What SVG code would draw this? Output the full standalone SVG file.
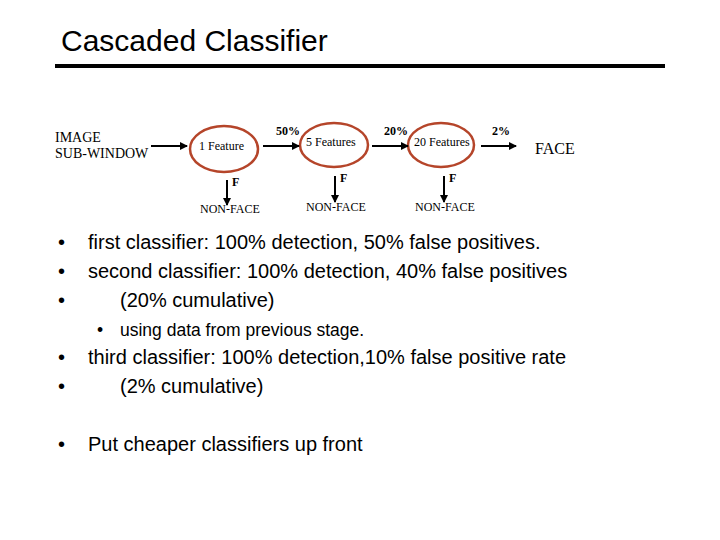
<svg xmlns="http://www.w3.org/2000/svg" width="720" height="540" viewBox="0 0 720 540">
<style>
.s{font-family:"Liberation Serif",serif;font-size:12px}
.b{font-family:"Liberation Serif",serif;font-size:12px;font-weight:bold}
.t{font-family:"Liberation Sans",sans-serif;font-size:20px}
.e{fill:none;stroke:#b5452a;stroke-width:2.5}
.a{stroke:#000;stroke-width:2;marker-end:url(#m)}
</style>
<defs><marker id="m" markerWidth="8" markerHeight="8" refX="7" refY="4" orient="auto" markerUnits="userSpaceOnUse"><path d="M0,0L8,4L0,8z"/></marker></defs>
<rect width="720" height="540" fill="#fff"/>
<text x="61" y="51" font-family="Liberation Sans,sans-serif" font-size="30">Cascaded Classifier</text>
<rect x="55" y="64" width="610" height="4" fill="#000"/>
<g id="input"><text x="55" y="142" font-family="Liberation Serif,serif" font-size="14">IMAGE</text><text x="55" y="158" font-family="Liberation Serif,serif" font-size="14">SUB-WINDOW</text></g>
<g id="c1"><ellipse class="e" cx="224" cy="149" rx="34" ry="23"/><text class="s" x="199" y="150">1 Feature</text></g>
<g id="c2"><ellipse class="e" cx="334" cy="145" rx="34" ry="22"/><text class="s" x="306" y="146">5 Features</text></g>
<g id="c3"><ellipse class="e" cx="441" cy="145" rx="33" ry="22"/><text class="s" x="414" y="146">20 Features</text></g>
<g id="face"><text x="535" y="154" font-family="Liberation Serif,serif" font-size="16">FACE</text></g>
<g id="nf1"><text class="s" x="200" y="213">NON-FACE</text></g>
<g id="nf2"><text class="s" x="306" y="211">NON-FACE</text></g>
<g id="nf3"><text class="s" x="415" y="211">NON-FACE</text></g>
<g id="connectors">
<line class="a" x1="151" y1="146" x2="187" y2="146"/>
<line class="a" x1="263" y1="146" x2="299" y2="146"/>
<line class="a" x1="372" y1="146" x2="408" y2="146"/>
<line class="a" x1="481" y1="146" x2="516" y2="146"/>
<line class="a" x1="227" y1="180" x2="227" y2="205"/>
<line class="a" x1="335" y1="176" x2="335" y2="202"/>
<line class="a" x1="444" y1="176" x2="444" y2="202"/>
<text class="b" x="276" y="135">50%</text>
<text class="b" x="384" y="135">20%</text>
<text class="b" x="492" y="135">2%</text>
<text class="b" x="232" y="186">F</text>
<text class="b" x="340" y="182">F</text>
<text class="b" x="449" y="182">F</text>
</g>
<text class="t" x="58" y="249">•</text><text class="t" x="88" y="249">first classifier: 100% detection, 50% false positives.</text>
<text class="t" x="58" y="278">•</text><text class="t" x="88" y="278">second classifier:  100% detection, 40% false positives</text>
<text class="t" x="58" y="307">•</text><text class="t" x="120" y="307">(20% cumulative)</text>
<text x="97" y="336" font-family="Liberation Sans,sans-serif" font-size="17.5">•</text><text x="120" y="336" font-family="Liberation Sans,sans-serif" font-size="17.5">using data from previous stage.</text>
<text class="t" x="58" y="364">•</text><text class="t" x="88" y="364">third classifier: 100% detection,10% false positive rate</text>
<text class="t" x="58" y="393">•</text><text class="t" x="120" y="393">(2% cumulative)</text>
<text class="t" x="58" y="451">•</text><text class="t" x="88" y="451">Put cheaper classifiers up front</text>
</svg>
